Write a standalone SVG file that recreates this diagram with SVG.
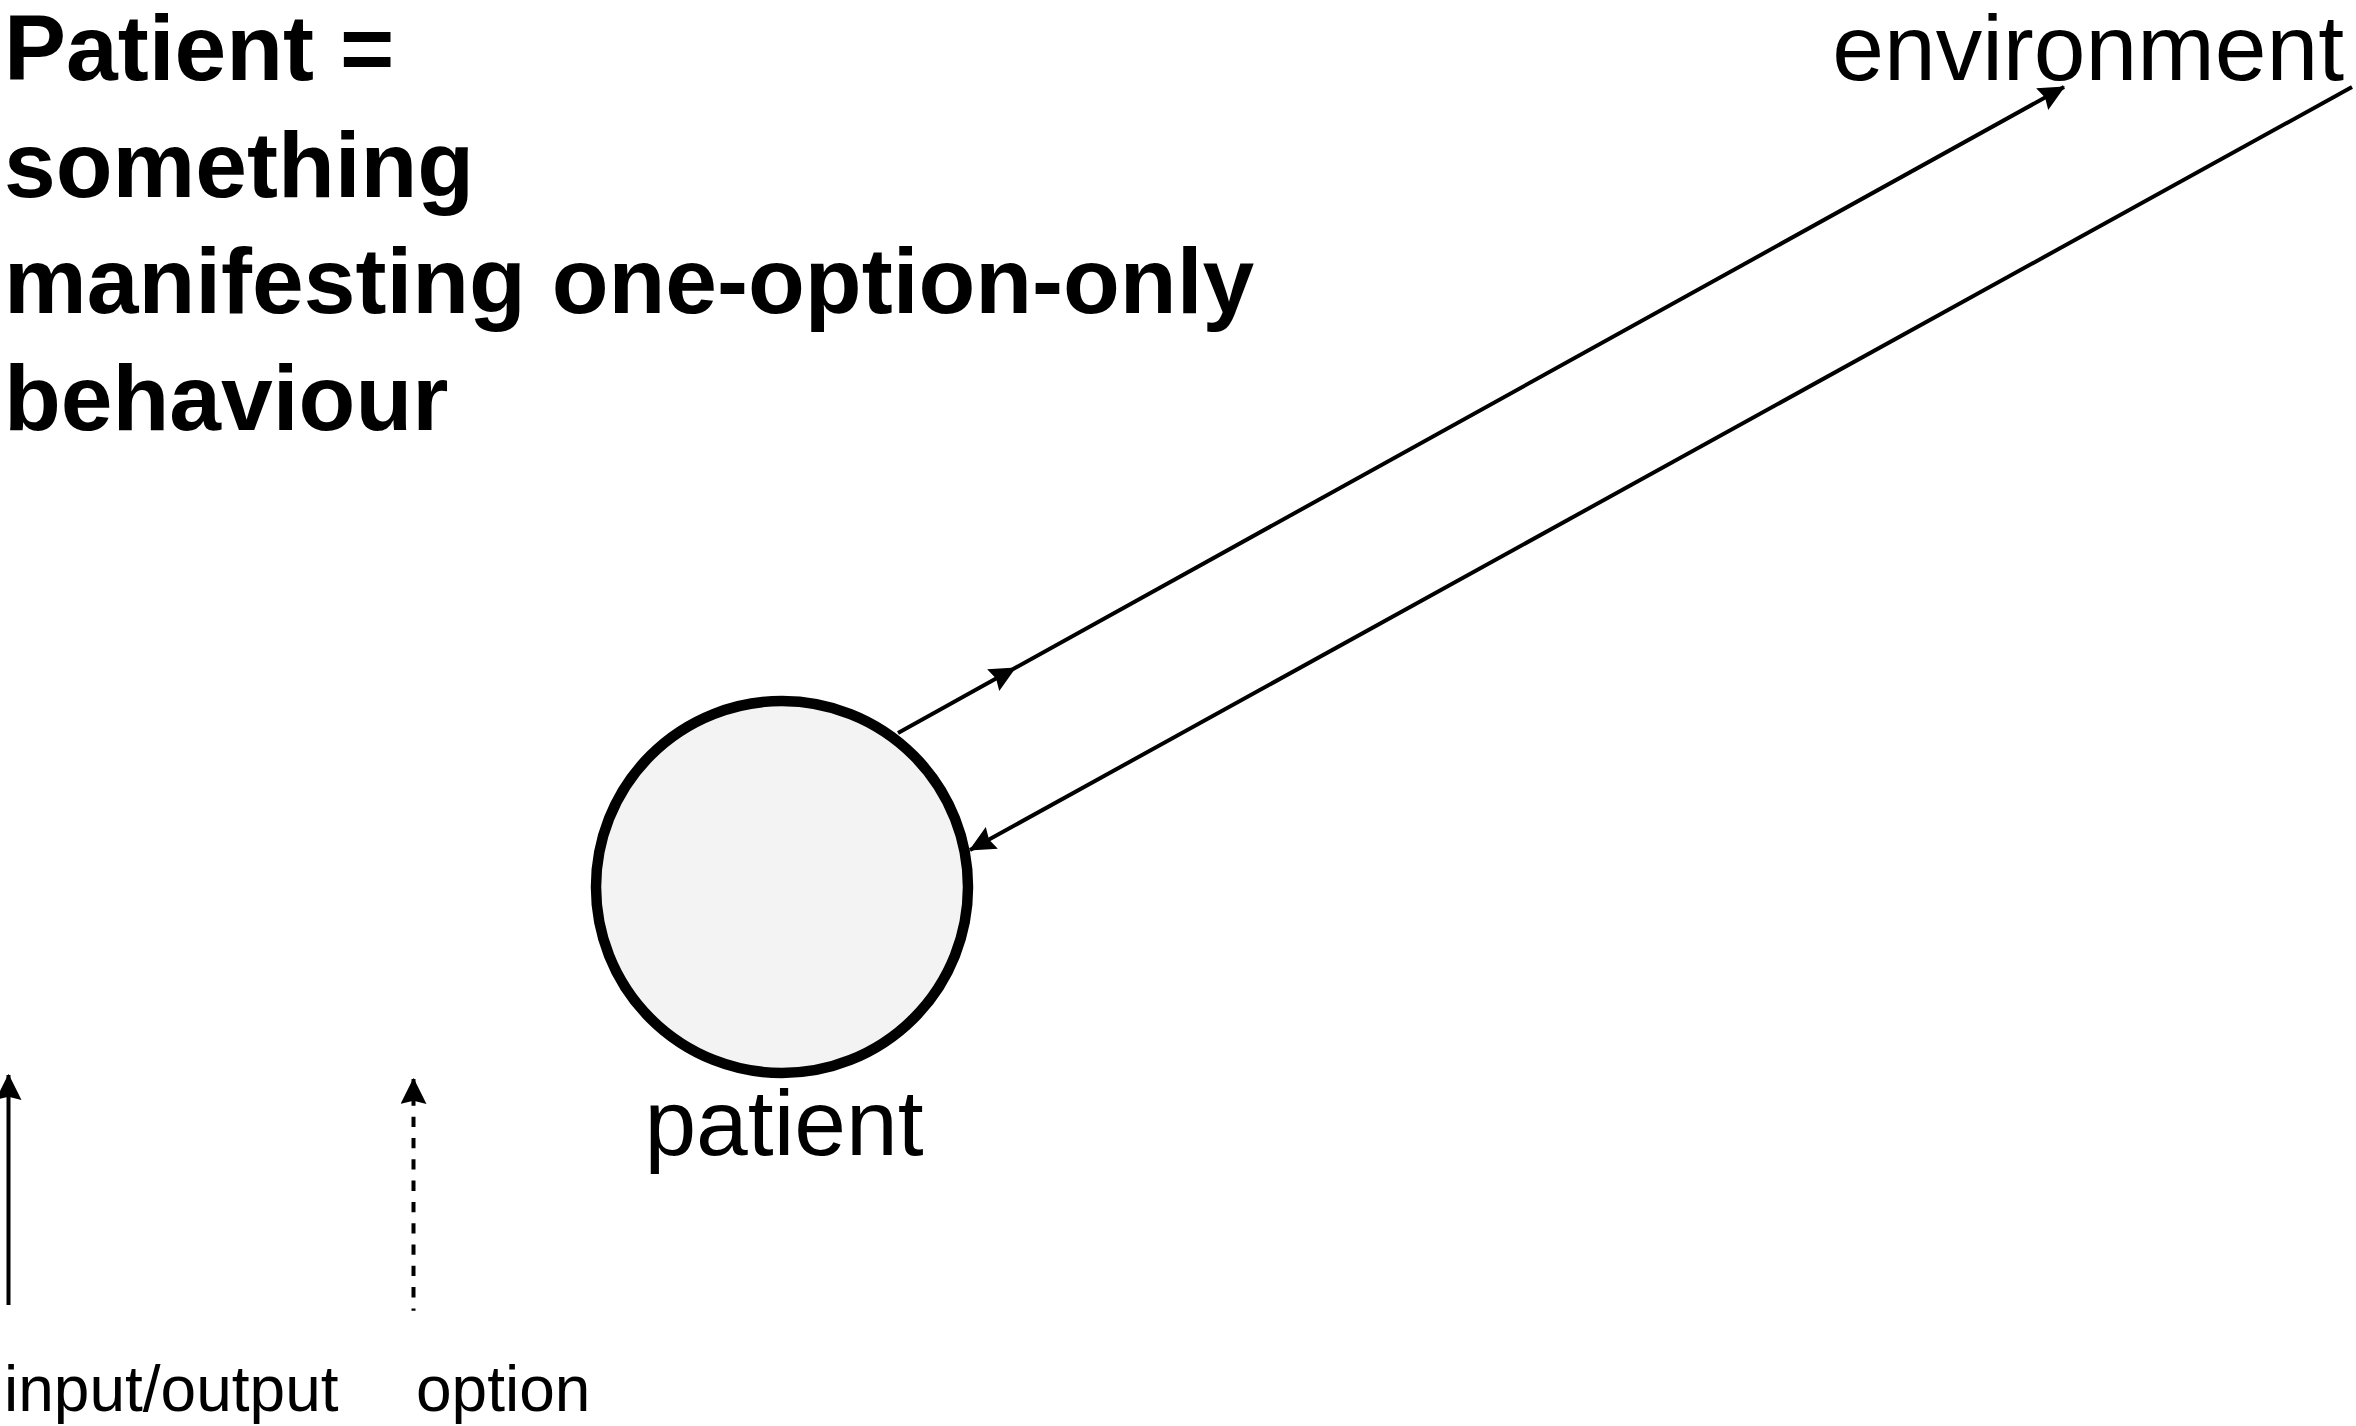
<svg xmlns="http://www.w3.org/2000/svg" width="2356" height="1426" viewBox="0 0 2356 1426">
<style>
.title{font-family:"Liberation Sans",Arial,sans-serif;font-weight:bold;font-size:93px;fill:#000}
.lbl{font-family:"Liberation Sans",Arial,sans-serif;font-size:93px;fill:#000}
.leg{font-family:"Liberation Sans",Arial,sans-serif;font-size:64px;fill:#000}
.conn{fill:none;stroke:#000;stroke-width:4}
</style>
<defs>
<marker id="ah" markerUnits="userSpaceOnUse" markerWidth="26" markerHeight="26" viewBox="0 0 24 23" refX="23" refY="11.5" orient="auto">
<path d="M0,0 L24,11.5 L0,23 L3,11.5 z" fill="#000"/>
</marker>
<marker id="ahs" markerUnits="userSpaceOnUse" markerWidth="26" markerHeight="26" viewBox="0 0 24 24" refX="23" refY="12" orient="auto-start-reverse">
<path d="M0,0 L24,12 L0,24 L3,12 z" fill="#000"/>
</marker>
</defs>
<rect width="2356" height="1426" fill="#fff"/>
<g id="title">
<text class="title" x="4" y="80">Patient =</text>
<text class="title" x="4" y="197">something</text>
<text class="title" x="4" y="313">manifesting one-option-only</text>
<text class="title" x="4" y="430">behaviour</text>
</g>
<g id="environment">
<text class="lbl" x="2344" y="80" text-anchor="end">environment</text>
</g>
<g id="patient">
<circle cx="782" cy="887" r="186" fill="#f3f3f3" stroke="#000" stroke-width="10.5"/>
<text class="lbl" x="784" y="1155" text-anchor="middle">patient</text>
</g>
<g id="connectors">
<path class="conn" d="M898,733 L1015,668 L2064,87" marker-mid="url(#ah)" marker-end="url(#ah)"/>
<path class="conn" d="M2352,87 L970,850" marker-end="url(#ah)"/>
</g>
<g id="legend">
<path class="conn" d="M8.5,1305 V1075" stroke-width="4.5" marker-end="url(#ahs)"/>
<path class="conn" d="M413.5,1079 V1310.7" stroke-width="4.5" stroke-dasharray="10.3 11" stroke-dashoffset="4.9" marker-start="url(#ahs)"/>
<text class="leg" x="4" y="1411">input/output</text>
<text class="leg" x="416" y="1411">option</text>
</g>
</svg>
